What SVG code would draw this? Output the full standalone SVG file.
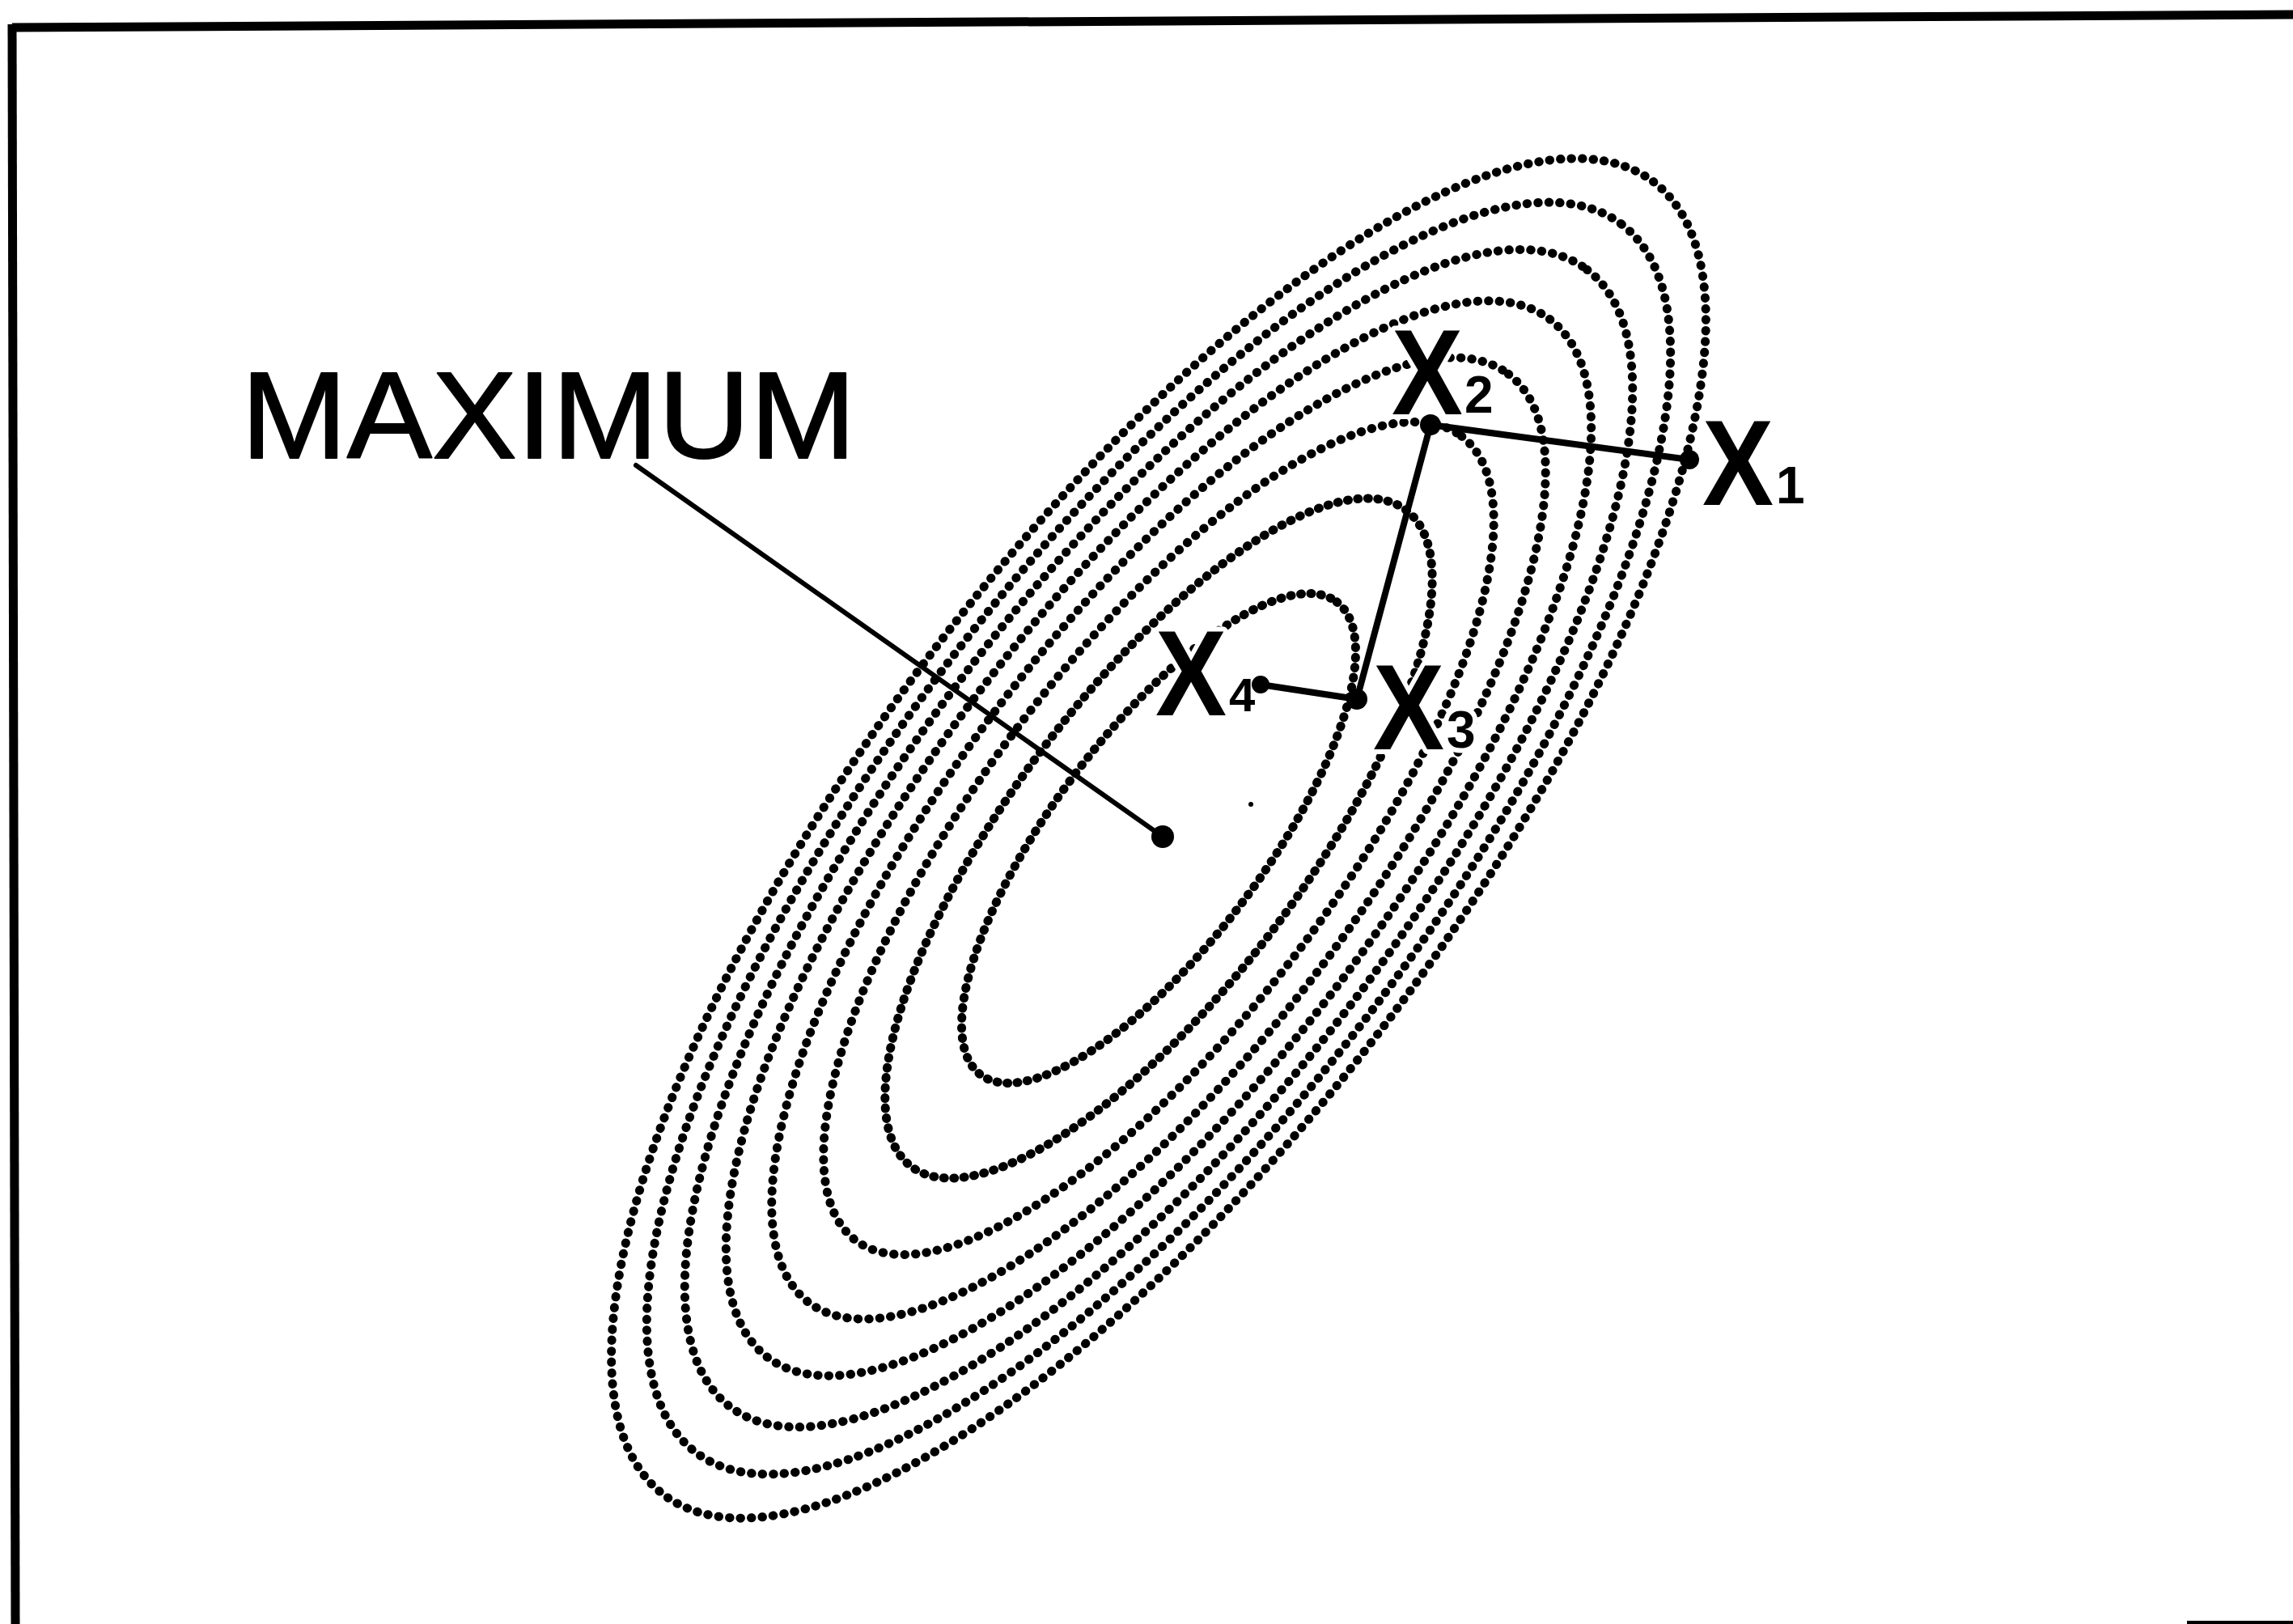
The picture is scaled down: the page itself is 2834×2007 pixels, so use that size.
<svg xmlns="http://www.w3.org/2000/svg" width="2834" height="2007" viewBox="0 0 2834 2007">
<style>
.ring{fill:none;stroke:#000;stroke-width:11;stroke-linecap:round;stroke-dasharray:0.5 13}
.ring.in{stroke-dasharray:1 11.5}
.ln{stroke:#000;stroke-width:8;stroke-linecap:round;fill:none}
.lbl{font-family:"Liberation Sans",Arial,sans-serif;font-weight:bold;fill:#000;stroke:#fff;stroke-width:12;paint-order:stroke;stroke-linejoin:round}
.big{font-size:150px}
.sub{font-size:64px}
.title{font-family:"Liberation Sans",Arial,sans-serif;font-size:152px;fill:#000;stroke:#000;stroke-width:2;stroke-linejoin:round}
.frame{stroke:#000;stroke-width:11;fill:none}
</style>
<rect width="2834" height="2007" fill="#fff"/>
<g id="frame">
<line class="frame" x1="15" y1="34" x2="2834" y2="18"/>
<line class="frame" x1="15" y1="30" x2="19" y2="2007"/>
<rect x="2703" y="2003" width="131" height="4" fill="#000"/>
</g>
<g id="contours" transform="rotate(-53 1432 1036)">
<ellipse class="ring in" cx="1432" cy="1036" rx="365.8" ry="130.3"/>
<ellipse class="ring in" cx="1432" cy="1036" rx="508" ry="181"/>
<ellipse class="ring" cx="1432" cy="1036" rx="622.2" ry="221.7"/>
<ellipse class="ring" cx="1432" cy="1036" rx="718.4" ry="256"/>
<ellipse class="ring" cx="1432" cy="1036" rx="803.2" ry="286.2"/>
<ellipse class="ring" cx="1432" cy="1036" rx="879.9" ry="313.5"/>
<ellipse class="ring" cx="1432" cy="1036" rx="950.4" ry="338.6"/>
<ellipse class="ring" cx="1432" cy="1036" rx="1016" ry="362"/>
</g>
<circle cx="1546" cy="994" r="3" fill="#000"/>
<g id="connectors">
<line class="ln" x1="2088" y1="568" x2="1768" y2="525"/>
<line class="ln" x1="1768" y1="525" x2="1677" y2="864"/>
<line class="ln" x1="1677" y1="864" x2="1558" y2="846"/>
<line class="ln" x1="786" y1="575" x2="1437" y2="1034" style="stroke-width:6"/>
</g>
<g id="node-maximum">
<text class="title" x="298" y="566" textLength="760" lengthAdjust="spacingAndGlyphs">MAXIMUM</text>
<circle cx="1437" cy="1034" r="14" fill="#000"/>
</g>
<g id="node-x1">
<text class="lbl big" transform="translate(2104 624) scale(0.88 1)">X</text>
<text class="lbl sub" x="2195" y="622">1</text>
<circle cx="2088" cy="568" r="12" fill="#000"/>
</g>
<g id="node-x2">
<text class="lbl big" transform="translate(1720 512) scale(0.88 1)">X</text>
<text class="lbl sub" x="1810" y="510">2</text>
<circle cx="1768" cy="525" r="13" fill="#000"/>
</g>
<g id="node-x3">
<text class="lbl big" transform="translate(1697 926) scale(0.88 1)">X</text>
<text class="lbl sub" x="1788" y="924">3</text>
<circle cx="1677" cy="864" r="13" fill="#000"/>
</g>
<g id="node-x4">
<text class="lbl big" transform="translate(1428 884) scale(0.88 1)">X</text>
<text class="lbl sub" x="1519" y="879" style="font-size:58px">4</text>
<circle cx="1558" cy="846" r="11" fill="#000"/>
</g>
</svg>
